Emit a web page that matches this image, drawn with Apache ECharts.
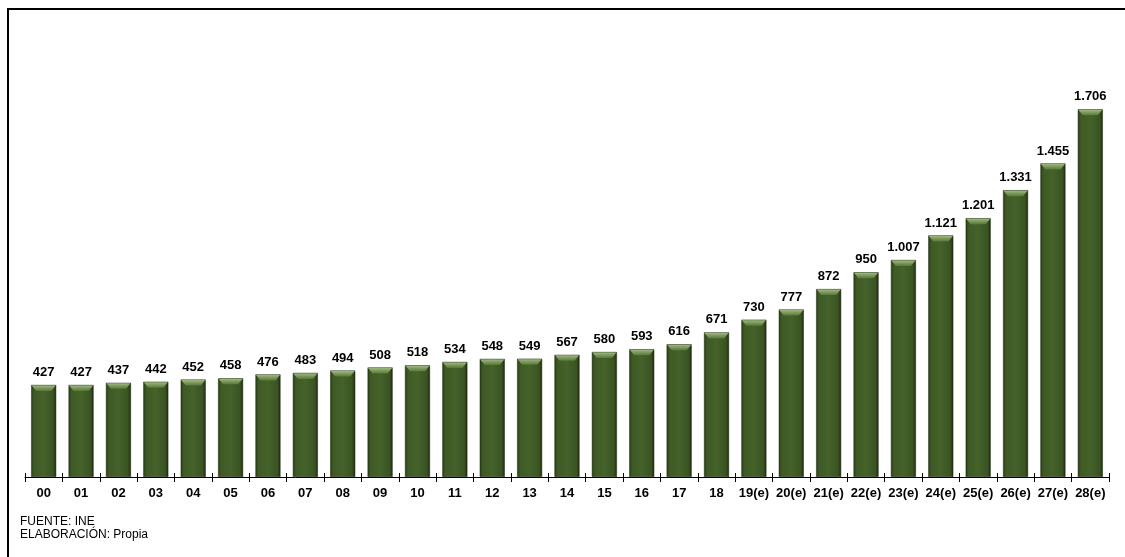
<!DOCTYPE html>
<html>
<head>
<meta charset="utf-8">
<script src="https://cdn.jsdelivr.net/npm/echarts@6/dist/echarts.min.js"></script>
<style>
html,body{margin:0;padding:0;background:#fff;}
#chart{width:1125px;height:557px;}
</style>
</head>
<body>
<div id="chart"></div>
<script>
const categories = ['00','01','02','03','04','05','06','07','08','09','10','11','12','13','14','15','16','17','18','19(e)','20(e)','21(e)','22(e)','23(e)','24(e)','25(e)','26(e)','27(e)','28(e)'];
const values = [427,427,437,442,452,458,476,483,494,508,518,534,548,549,567,580,593,616,671,730,777,872,950,1007,1121,1201,1331,1455,1706];
const footerLines = ['FUENTE: INE', 'ELABORACIÓN: Propia'];

function fmt(v){
  return String(v).replace(/\B(?=(\d{3})+(?!\d))/g, '.');
}

const chart = echarts.init(document.getElementById('chart'), null, {renderer:'canvas'});
const barColor = new echarts.graphic.LinearGradient(0,0,1,0,[
  {offset:0, color:'#2a3d17'},
  {offset:0.12, color:'#3f5a25'},
  {offset:0.5, color:'#45622a'},
  {offset:0.88, color:'#3a5322'},
  {offset:1, color:'#1c2a0e'}
]);
const BW = 25;
chart.setOption({
  animation:false,
  backgroundColor:'#fff',
  grid:{left:25, right:16, top:46, bottom:80},
  xAxis:[{
    type:'category',
    data:categories,
    axisLine:{lineStyle:{color:'#000', width:1}},
    axisTick:{show:true, length:5, lineStyle:{color:'#000'}},
    axisLabel:{color:'#000', fontFamily:'Liberation Sans, Arial', fontWeight:'bold', fontSize:13, margin:10, interval:0}
  },{
    type:'category',
    data:categories,
    position:'bottom',
    axisLine:{show:false},
    axisTick:{show:true, inside:true, length:4, lineStyle:{color:'#000'}},
    axisLabel:{show:false}
  }],
  yAxis:{
    type:'value', min:0, max:2000, show:false,
    splitLine:{show:false}
  },
  series:[{
    type:'bar',
    data:values,
    barWidth:BW,
    itemStyle:{color:barColor, borderColor:'#1a260d', borderWidth:0.5},
    label:{
      show:true, position:'top', distance:6,
      color:'#000', fontFamily:'Liberation Sans, Arial', fontWeight:'bold', fontSize:13,
      formatter:p=>fmt(p.value)
    }
  },{
    type:'custom',
    data:values.map((v,i)=>[i,v]),
    silent:true,
    z:5,
    renderItem:function(params, api){
      const p = api.coord([api.value(0), api.value(1)]);
      const x0 = p[0]-BW/2, x1 = p[0]+BW/2, y = p[1];
      return {
        type:'polygon',
        shape:{points:[[x0+0.5,y+0.5],[x1-0.5,y+0.5],[x1-5,y+6],[x0+5,y+6]]},
        style:{fill:new echarts.graphic.LinearGradient(0,0,0,1,[
          {offset:0,color:'#9fb87e'},{offset:1,color:'#587839'}])}
      };
    }
  }],
  graphic:[
    {type:'line', shape:{x1:7, y1:9, x2:1125, y2:9}, style:{stroke:'#000', lineWidth:2}},
    {type:'line', shape:{x1:8, y1:8, x2:8, y2:557}, style:{stroke:'#000', lineWidth:2}},
    {type:'text', left:20, top:516, style:{text:footerLines[0], font:'12px "Liberation Sans", Arial', fill:'#000'}},
    {type:'text', left:20, top:529, style:{text:footerLines[1], font:'12px "Liberation Sans", Arial', fill:'#000'}}
  ]
});
</script>
</body>
</html>
